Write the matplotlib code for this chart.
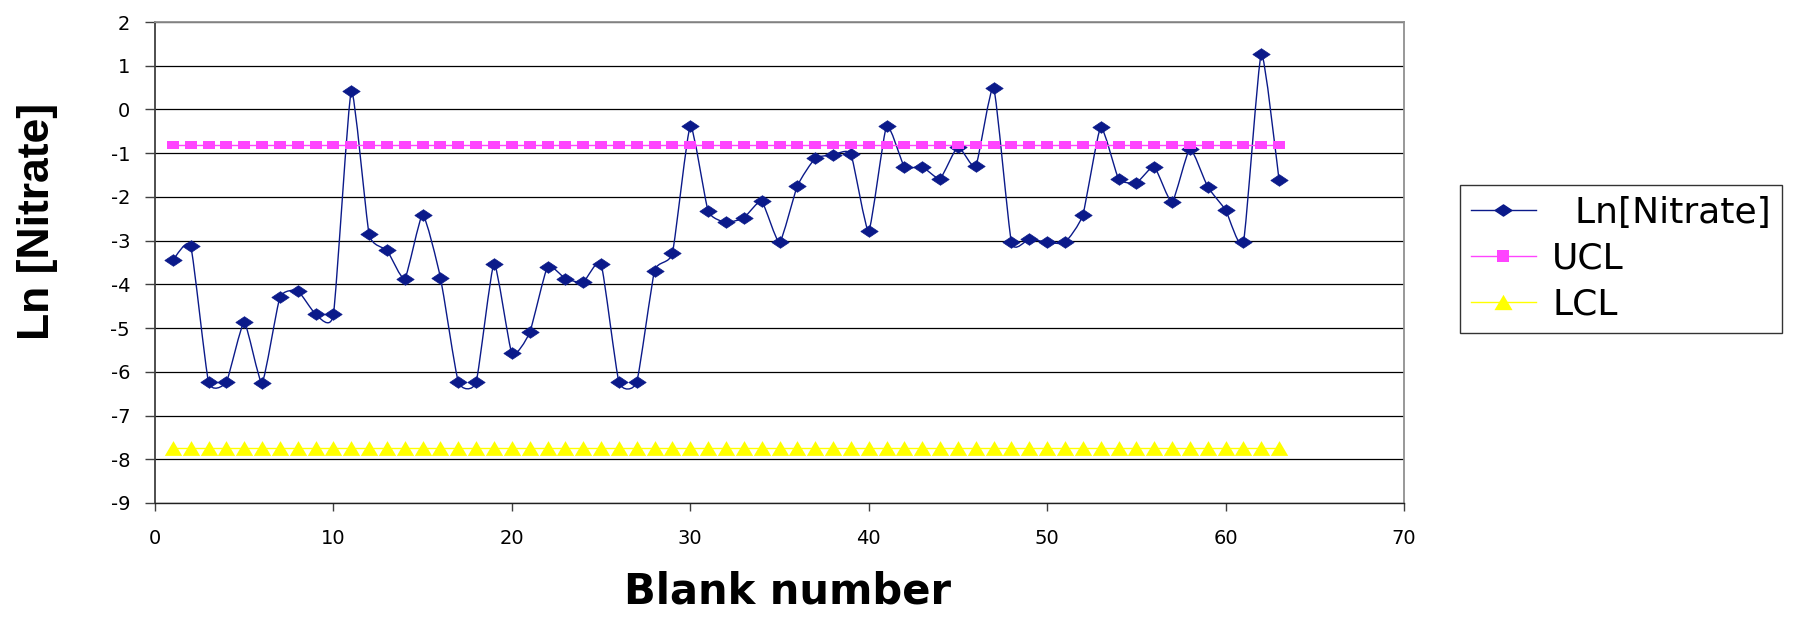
import numpy as np
import matplotlib
matplotlib.use('Agg')
import matplotlib.pyplot as plt
from matplotlib.path import Path
from matplotlib.patches import PathPatch
from matplotlib.lines import Line2D

plt.rcParams['axes.unicode_minus'] = False

# ---- data ----
blank = list(range(1, 64))
ln_nitrate = [-3.45, -3.12, -6.23, -6.23, -4.87, -6.25, -4.30, -4.15, -4.68, -4.68,
              0.42, -2.85, -3.22, -3.87, -2.41, -3.85, -6.23, -6.23, -3.53, -5.58,
              -5.10, -3.60, -3.87, -3.95, -3.53, -6.23, -6.23, -3.69, -3.28, -0.38,
              -2.32, -2.58, -2.48, -2.10, -3.04, -1.75, -1.12, -1.04, -1.02, -2.78,
              -0.38, -1.31, -1.31, -1.58, -0.85, -1.30, 0.50, -3.04, -2.96, -3.04,
              -3.04, -2.41, -0.41, -1.58, -1.68, -1.31, -2.12, -0.90, -1.77, -2.30,
              -3.04, 1.27, -1.62]
ucl_value = -0.81
lcl_value = -7.75
ucl = [ucl_value] * len(blank)
lcl = [lcl_value] * len(blank)
labels = ['  Ln[Nitrate]', 'UCL', 'LCL']
x_ticks = [0, 10, 20, 30, 40, 50, 60, 70]
y_ticks = [-9, -8, -7, -6, -5, -4, -3, -2, -1, 0, 1, 2]

navy = '#0B1A8A'
pink = '#FF44FF'
yellow = '#FFFF00'

W, H = 1795, 620
fig = plt.figure(figsize=(W / 100, H / 100), dpi=100)
L, R, T, B = 155, 1404, 22, 503
ax = fig.add_axes([L / W, 1 - B / H, (R - L) / W, (B - T) / H])
ax.set_xlim(0, 70)
ax.set_ylim(-9, 2)
ax.set_xticks(x_ticks)
ax.set_yticks(y_ticks)
ax.grid(axis='y', color='black', linewidth=0.9)
ax.set_axisbelow(True)
for s in ['top', 'right']:
    ax.spines[s].set_color('#909090')
    ax.spines[s].set_linewidth(1.3)
ax.spines['left'].set_color('#404040')
ax.spines['left'].set_linewidth(1.3)
ax.spines['bottom'].set_color('#202020')
ax.spines['bottom'].set_linewidth(1.0)
ax.tick_params(axis='x', direction='out', length=6, width=1, pad=13,
               labelsize=14, color='#404040')
ax.tick_params(axis='y', direction='out', length=7, width=1, pad=11,
               labelsize=14, color='#404040')

# smoothed line (cubic Bezier through the points, like Excel's smoothed line)
k = 1.0 / 12.0
pts = np.column_stack([blank, ln_nitrate]).astype(float)
n = len(pts)
verts = [tuple(pts[0])]
codes = [Path.MOVETO]
for i in range(n - 1):
    p0 = pts[i - 1] if i > 0 else pts[i]
    p1 = pts[i]
    p2 = pts[i + 1]
    p3 = pts[i + 2] if i + 2 < n else pts[i + 1]
    c1 = p1 + (p2 - p0) * k
    c2 = p2 - (p3 - p1) * k
    verts += [tuple(c1), tuple(c2), tuple(p2)]
    codes += [Path.CURVE4] * 3
ax.add_patch(PathPatch(Path(verts, codes), fill=False, edgecolor=navy,
                       linewidth=1.0, zorder=3))

diamond = [(-1, 0), (0, 0.67), (1, 0), (0, -0.67), (-1, 0)]
tri = [(-1, -0.85), (1, -0.85), (0, 0.85), (-1, -0.85)]
rect = [(-1, -0.6), (1, -0.6), (1, 0.6), (-1, 0.6), (-1, -0.6)]

ax.plot(blank, ln_nitrate, linestyle='none', marker=diamond, markersize=12.5,
        color=navy, markeredgewidth=0.5, zorder=4)
ax.plot(blank, ucl, color=pink, linewidth=1, marker=rect, markersize=8.5,
        markeredgewidth=0, zorder=5)
ax.plot(blank, lcl, color=yellow, linewidth=1, marker=tri, markersize=12.5,
        markeredgewidth=0, zorder=5)

handles = [
    Line2D([], [], color=navy, linewidth=1, marker=diamond, markersize=12),
    Line2D([], [], color=pink, linewidth=1, marker='s', markersize=9, markeredgewidth=0),
    Line2D([], [], color=yellow, linewidth=1, marker=tri, markersize=13, markeredgewidth=0),
]
leg = fig.legend(handles, labels, loc='upper left',
                 bbox_to_anchor=(1460 / W, 1 - 185 / H), bbox_transform=fig.transFigure,
                 fontsize=26, frameon=True, fancybox=False, borderaxespad=0,
                 borderpad=0.3, labelspacing=0.33, handlelength=1.8,
                 handletextpad=0.45)
leg.get_frame().set_edgecolor('black')
leg.get_frame().set_linewidth(1.0)

fig.text(38 / W, 1 - 221 / H, 'Ln [Nitrate]', rotation=90, ha='center', va='center',
         fontsize=32, fontweight='bold', family='Liberation Sans')
fig.text(787 / W, 1 - 604 / H, 'Blank number', ha='center', va='baseline',
         fontsize=30, fontweight='bold')

fig.savefig('out.png', dpi=100)
